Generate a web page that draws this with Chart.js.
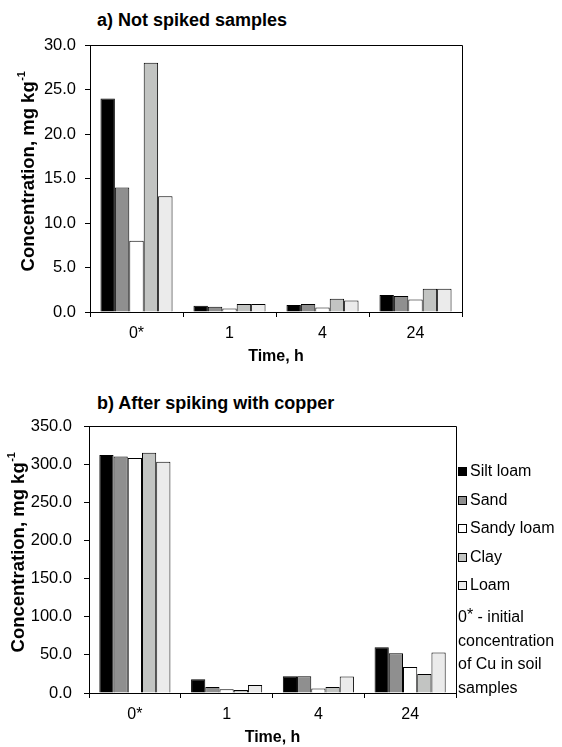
<!DOCTYPE html>
<html>
<head>
<meta charset="utf-8">
<script src="https://cdn.jsdelivr.net/npm/chart.js@4.4.1/dist/chart.umd.min.js"></script>
<style>
  html, body { margin: 0; padding: 0; background: #fff; }
  body { width: 562px; height: 747px; position: relative; overflow: hidden;
         font-family: 'Liberation Sans', Arial, sans-serif; color: #000; }
  .wrap { position: absolute; left: 0; width: 562px; }
  .title { position: absolute; left: 97px; font-weight: bold; font-size: 18px; white-space: nowrap; }
  #legend { position: absolute; left: 458px; top: 461px; font-size: 16px; }
  .item { position: absolute; left: 0; white-space: nowrap; height: 20px; line-height: 20px; }
  .box { position: absolute; left: 0; top: 6px; width: 7px; height: 7px; border: 1px solid #000; }
  .item span.txt { position: absolute; left: 12px; top: 0; }
  #note { position: absolute; left: 458px; top: 605px; font-size: 16px; line-height: 23.5px; white-space: nowrap; }
  #note sup { font-size: 16px; line-height: 0; position: relative; top: -2px; vertical-align: 0; }
</style>
</head>
<body>
<div class="title" style="top:10px">a) Not spiked samples</div>
<div class="wrap" style="top:0;height:370px"><canvas id="chartA" width="562" height="370"></canvas></div>
<div class="title" style="top:393px">b) After spiking with copper</div>
<div class="wrap" style="top:380px;height:371px"><canvas id="chartB" width="562" height="371"></canvas></div>
<div id="legend"></div>
<div id="note">0<sup>*</sup> - initial<br>concentration<br>of Cu in soil<br>samples</div>
<script>
// Sampling times (hours); 0* is the initial concentration
const timeLabels = ['0*', '1', '4', '24'];
const soilNames = ['Silt loam', 'Sand', 'Sandy loam', 'Clay', 'Loam'];

// a) Not spiked samples, Cu concentration in mg/kg
const siltLoamA  = [24.0, 0.7, 0.8, 1.9];
const sandA      = [14.0, 0.6, 0.9, 1.8];
const sandyLoamA = [8.0, 0.4, 0.5, 1.4];
const clayA      = [28.0, 0.9, 1.5, 2.6];
const loamA      = [13.0, 0.9, 1.3, 2.6];

// b) After spiking with copper, Cu concentration in mg/kg
const siltLoamB  = [312, 18, 22, 60];
const sandB      = [310, 8, 22, 52];
const sandyLoamB = [308, 5, 6, 34];
const clayB      = [315, 4, 8, 25];
const loamB      = [303, 10.5, 21.5, 53];

// Value axis ranges
const yMaxA = 30, yStepA = 5;
const yMaxB = 350, yStepB = 50;

const soilColors = ['#000000', '#8f8f8f', '#ffffff', '#c2c4c2', '#ebebeb'];

Chart.defaults.font.family = "'Liberation Sans', Arial, sans-serif";
Chart.defaults.color = '#000';

function makeDatasets(series) {
  return series.map((vals, i) => ({
    label: soilNames[i],
    data: vals,
    backgroundColor: soilColors[i],
    borderColor: '#000',
    borderWidth: 1,
    borderSkipped: 'bottom',
    categoryPercentage: 0.775,
    barPercentage: 1.0
  }));
}

// Draws the top and right edges of the plot area
const frame = {
  id: 'frame',
  afterDraw(chart) {
    const a = chart.chartArea, ctx = chart.ctx;
    ctx.save();
    ctx.strokeStyle = '#000';
    ctx.lineWidth = 1;
    ctx.beginPath();
    ctx.moveTo(Math.round(a.left) + 0.5, Math.round(a.top) + 0.5);
    ctx.lineTo(Math.round(a.right) + 0.5, Math.round(a.top) + 0.5);
    ctx.lineTo(Math.round(a.right) + 0.5, Math.round(a.bottom) + 0.5);
    ctx.stroke();
    ctx.restore();
  }
};

// Rotated value-axis title with a superscript unit exponent
const yTitle = {
  id: 'yTitle',
  afterDraw(chart, args, opts) {
    const ctx = chart.ctx, a = chart.chartArea;
    const main = 'Concentration, mg kg', sup = '-1';
    const mainFont = "bold 18.5px 'Liberation Sans', Arial, sans-serif";
    const supFont = "bold 11px 'Liberation Sans', Arial, sans-serif";
    ctx.save();
    ctx.fillStyle = '#000';
    ctx.font = mainFont;
    const wm = ctx.measureText(main).width;
    ctx.font = supFont;
    const ws = ctx.measureText(sup).width;
    const cy = (a.top + a.bottom) / 2 + (opts.dy || 0);
    ctx.translate(opts.x, cy + (wm + ws) / 2);
    ctx.rotate(-Math.PI / 2);
    ctx.textBaseline = 'middle';
    ctx.textAlign = 'left';
    ctx.font = mainFont;
    ctx.fillText(main, 0, 0);
    ctx.font = supFont;
    ctx.fillText(sup, wm + 0.5, -7);
    ctx.restore();
  }
};

function makeChart(id, series, yMax, yStep, pad, yWidth, xHeight, titleX, titleDy, yPad) {
  return new Chart(document.getElementById(id), {
    type: 'bar',
    data: { labels: timeLabels, datasets: makeDatasets(series) },
    plugins: [frame, yTitle],
    options: {
      responsive: false,
      animation: false,
      layout: { padding: pad },
      plugins: {
        legend: { display: false },
        tooltip: { enabled: false },
        yTitle: { x: titleX, dy: titleDy }
      },
      scales: {
        x: {
          afterFit(s) { s.height = xHeight; },
          grid: { offset: true, drawOnChartArea: false, drawTicks: true, tickLength: 5, color: '#000' },
          border: { color: '#000', width: 1 },
          ticks: { font: { size: 16 }, padding: 7, color: '#000' },
          title: { display: true, text: 'Time, h', font: { size: 16, weight: 'bold' }, color: '#000', padding: { top: 0 } }
        },
        y: {
          min: 0, max: yMax,
          afterFit(s) { s.width = yWidth; },
          grid: { drawOnChartArea: false, drawTicks: true, tickLength: 5, color: '#000' },
          border: { color: '#000', width: 1 },
          ticks: { stepSize: yStep, font: { size: 16.5 }, padding: yPad, color: '#000',
                   callback: v => Number(v).toFixed(1) }
        }
      }
    }
  });
}

makeChart('chartA', [siltLoamA, sandA, sandyLoamA, clayA, loamA], yMaxA, yStepA,
  { left: 0, top: 45, right: 100, bottom: 0 }, 90, 58, 29, -7, 9);
const chartB = makeChart('chartB', [siltLoamB, sandB, sandyLoamB, clayB, loamB], yMaxB, yStepB,
  { left: 0, top: 46, right: 106, bottom: 0 }, 89, 58, 19, -7, 12);

// Legend built from the second chart's datasets
const legend = document.getElementById('legend');
chartB.data.datasets.forEach((ds, i) => {
  const item = document.createElement('div');
  item.className = 'item';
  item.style.top = (i * 28.6) + 'px';
  const box = document.createElement('div');
  box.className = 'box';
  box.style.background = ds.backgroundColor;
  const txt = document.createElement('span');
  txt.className = 'txt';
  txt.textContent = ds.label;
  item.appendChild(box);
  item.appendChild(txt);
  legend.appendChild(item);
});
</script>
</body>
</html>
